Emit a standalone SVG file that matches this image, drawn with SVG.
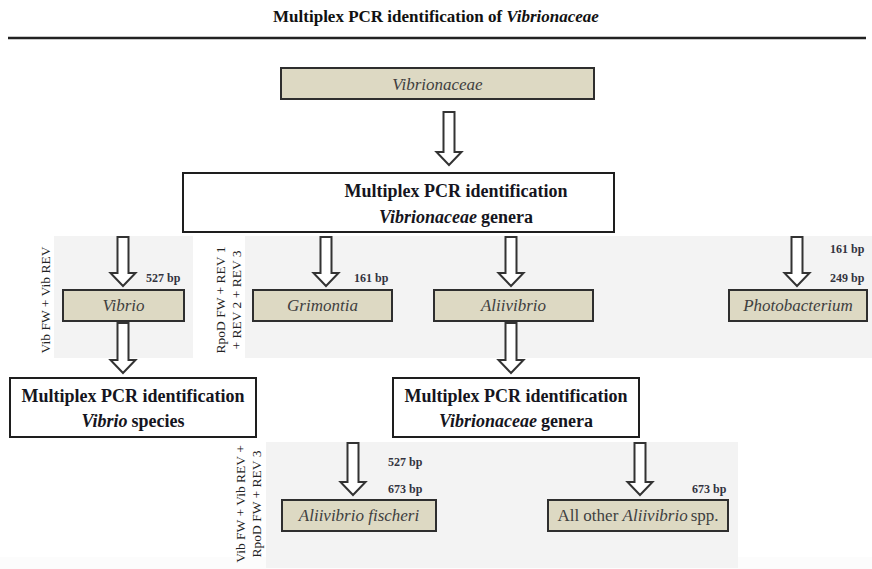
<svg xmlns="http://www.w3.org/2000/svg" width="872" height="569" viewBox="0 0 872 569">
<style>
.bg{fill:#f3f3f3}
.tan{fill:#ddd9c3;stroke:#2e2e2e;stroke-width:2}
.wb{fill:#ffffff;stroke:#1e1e1e;stroke-width:2}
.arr{fill:#ffffff;stroke:#333333;stroke-width:2;stroke-linejoin:miter}
.sp{font-family:"Liberation Serif","Times New Roman",serif;font-style:italic;font-size:17px;fill:#404040;text-anchor:middle}
.spn{font-family:"Liberation Serif","Times New Roman",serif;font-style:normal;font-size:17px;fill:#404040;text-anchor:middle}
.hd{font-family:"Liberation Serif","Times New Roman",serif;font-weight:bold;font-size:18px;fill:#151520;text-anchor:middle}
.bp{font-family:"Liberation Serif","Times New Roman",serif;font-weight:bold;font-size:12px;fill:#333340}
.pr{font-family:"Liberation Serif","Times New Roman",serif;font-size:13.5px;fill:#222222;text-anchor:middle}
.it{font-style:italic}
</style>
<rect x="0" y="0" width="872" height="569" fill="#ffffff"/>
<rect x="0" y="557" width="872" height="12" fill="#fcfcfc"/>
<g id="title">
<text x="436" y="22" font-family="Liberation Serif, Times New Roman, serif" font-weight="bold" font-size="17" fill="#111111" text-anchor="middle">Multiplex PCR identification of <tspan font-style="italic">Vibrionaceae</tspan></text>
<line x1="8" y1="38" x2="866" y2="38" stroke="#222222" stroke-width="2.5"/>
</g>
<g id="panels">
<rect class="bg" x="54" y="236" width="139" height="122"/>
<rect class="bg" x="245" y="236" width="627" height="122"/>
<rect class="bg" x="266" y="442" width="472" height="126"/>
</g>
<g id="primers">
<text class="pr" transform="translate(50,300) rotate(-90)">Vib FW + Vib REV</text>
<text class="pr" transform="translate(225,300) rotate(-90)">RpoD FW + REV 1</text>
<text class="pr" transform="translate(241,300) rotate(-90)">+ REV 2 + REV 3</text>
<text class="pr" transform="translate(245,504) rotate(-90)">Vib FW + Vib REV +</text>
<text class="pr" transform="translate(261,504) rotate(-90)">RpoD FW + REV 3</text>
</g>
<g id="connectors">
<path class="arr" d="M443.5,112 H454.5 V152 H461.5 L449,165 L436.5,152 H443.5 Z"/>
<path class="arr" d="M117.5,237 H128.5 V273 H135.5 L123,286 L110.5,273 H117.5 Z"/>
<path class="arr" d="M320.5,237 H331.5 V273 H338.5 L326,286 L313.5,273 H320.5 Z"/>
<path class="arr" d="M505.5,237 H516.5 V273 H523.5 L511,286 L498.5,273 H505.5 Z"/>
<path class="arr" d="M791.5,237 H802.5 V273 H809.5 L797,286 L784.5,273 H791.5 Z"/>
<path class="arr" d="M117.5,323 H128.5 V360 H135.5 L123,373 L110.5,360 H117.5 Z"/>
<path class="arr" d="M505.5,323 H516.5 V360 H523.5 L511,373 L498.5,360 H505.5 Z"/>
<path class="arr" d="M347.5,443 H358.5 V482 H365.5 L353,495 L340.5,482 H347.5 Z"/>
<path class="arr" d="M634.5,443 H645.5 V482 H652.5 L640,495 L627.5,482 H634.5 Z"/>
</g>
<g id="bp-labels">
<text class="bp" x="146" y="282">527 bp</text>
<text class="bp" x="354" y="282">161 bp</text>
<text class="bp" x="830" y="253">161 bp</text>
<text class="bp" x="830" y="282">249 bp</text>
<text class="bp" x="388" y="466">527 bp</text>
<text class="bp" x="388" y="493">673 bp</text>
<text class="bp" x="692" y="493">673 bp</text>
</g>
<g id="node-vibrionaceae">
<rect class="tan" x="281" y="68" width="313" height="31"/>
<text class="sp" x="437.5" y="90">Vibrionaceae</text>
</g>
<g id="node-genera">
<rect class="wb" x="183" y="173" width="431" height="59"/>
<text class="hd" x="456" y="197">Multiplex PCR identification</text>
<text class="hd" x="456" y="223"><tspan class="it">Vibrionaceae</tspan><tspan dx="4">genera</tspan></text>
</g>
<g id="node-vibrio">
<rect class="tan" x="63" y="290" width="121" height="31"/>
<text class="sp" x="123.5" y="311">Vibrio</text>
</g>
<g id="node-grimontia">
<rect class="tan" x="253" y="290" width="139" height="31"/>
<text class="sp" x="322.5" y="311">Grimontia</text>
</g>
<g id="node-aliivibrio">
<rect class="tan" x="434" y="290" width="159" height="31"/>
<text class="sp" x="513.5" y="311">Aliivibrio</text>
</g>
<g id="node-photobacterium">
<rect class="tan" x="729" y="290" width="138" height="31"/>
<text class="sp" x="798" y="311">Photobacterium</text>
</g>
<g id="node-vibrio-species">
<rect class="wb" x="10" y="378" width="246" height="59"/>
<text class="hd" x="133" y="402">Multiplex PCR identification</text>
<text class="hd" x="133" y="427"><tspan class="it">Vibrio</tspan><tspan dx="4">species</tspan></text>
</g>
<g id="node-genera-2">
<rect class="wb" x="393" y="378" width="246" height="59"/>
<text class="hd" x="516" y="402">Multiplex PCR identification</text>
<text class="hd" x="516" y="427"><tspan class="it">Vibrionaceae</tspan><tspan dx="4">genera</tspan></text>
</g>
<g id="node-fischeri">
<rect class="tan" x="282" y="500" width="154" height="31"/>
<text class="sp" x="359" y="521">Aliivibrio fischeri</text>
</g>
<g id="node-other">
<rect class="tan" x="548" y="500" width="180" height="31"/>
<text class="spn" x="638" y="521">All other <tspan class="it">Aliivibrio</tspan><tspan dx="3">spp.</tspan></text>
</g>
</svg>
